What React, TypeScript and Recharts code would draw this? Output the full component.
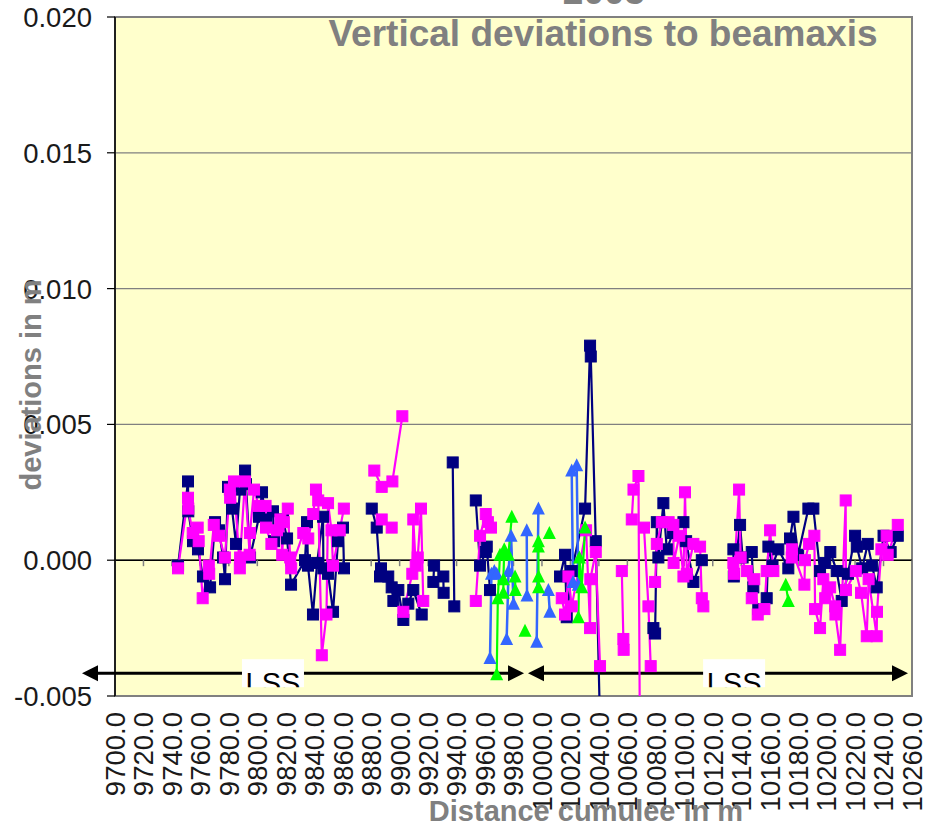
import React from 'react';
import {
  ComposedChart,
  Line,
  XAxis,
  YAxis,
  CartesianGrid,
  ReferenceLine,
  ReferenceArea,
  ReferenceDot,
} from 'recharts';

// ---------- axes ----------
const xTicks = [
  9700, 9720, 9740, 9760, 9780, 9800, 9820, 9840, 9860, 9880, 9900, 9920, 9940, 9960, 9980,
  10000, 10020, 10040, 10060, 10080, 10100, 10120, 10140, 10160, 10180, 10200, 10220, 10240, 10260,
];
const yTicks = [-0.005, 0, 0.005, 0.01, 0.015, 0.02];

const titleLine1 = '2005';
const titleLine2 = 'Vertical deviations to beamaxis';
const yTitle = 'deviations in m';
const xTitle = 'Distance cumulee in m';
const zoneLabel = 'LSS';

// ---------- series (distance in m, deviation in m; null = break in line) ----------
type Pt = [number, number | null];

const navyPts: Pt[] = [
  [9744.3, -0.0002], [9751.3, 0.0029], [9751.5, 0.0018], [9754.8, 0.0007], [9758.3, 0.0004],
  [9761.8, -0.0006], [9766.8, -0.001], [9770.3, 0.0014], [9773.1, 0.0011], [9775.9, 0.0001],
  [9777.3, -0.0007], [9779.4, 0.0027], [9782.2, 0.0019], [9785.0, 0.0006], [9787.8, 0.0026],
  [9791.4, 0.0033], [9792.0, 0.0028], [9794.9, 0.0001], [9801.2, 0.0016], [9803.3, 0.0025],
  [9806.1, 0.0015], [9811.0, 0.0018], [9811.7, 0.0007], [9818.0, 0.0015], [9820.9, 0.0008],
  [9823.7, -0.0009], [9833.5, 0.0], [9834.9, 0.0014], [9835.6, -0.0002], [9839.1, -0.002],
  [9842.0, -0.0001], [9846.2, 0.0016], [9846.4, -0.0003], [9849.7, -0.0005], [9853.2, -0.0019],
  [9856.7, 0.0007], [9860.2, 0.0012], [9860.9, -0.0003],
  [9870, null],
  [9880.4, 0.0019], [9883.9, 0.0012], [9886.2, -0.0006], [9886.9, -0.0003], [9892.0, -0.0006],
  [9894.4, -0.001], [9895.6, -0.0015], [9899.1, -0.0011], [9902.6, -0.0022], [9906.1, -0.0016],
  [9909.6, -0.0011], [9915.5, -0.002],
  [9920, null],
  [9923.7, -0.0008], [9924.2, -0.0002], [9930.7, -0.0006], [9930.9, -0.0012],
  [9934, null],
  [9937.3, 0.0036], [9938.4, -0.0017],
  [9945, null],
  [9953.5, 0.0022], [9956.5, -0.0002], [9960.5, 0.0003], [9961.2, 0.0005], [9963.5, -0.0011],
  [9990, null],
  [10012.7, -0.0006], [10016.2, 0.0002], [10017.4, -0.0021], [10020.9, -0.0004], [10030.3, 0.0019],
  [10033.8, 0.0079], [10034.3, 0.0075], [10037.8, 0.0007], [10041.9, -0.0085],
  [10060, null],
  [10078.3, -0.0025], [10079.5, -0.0027], [10080.7, 0.0014], [10081.8, 0.0001], [10085.3, 0.0021],
  [10087.7, 0.0004], [10092.0, 0.001], [10099.4, 0.0014], [10101.3, 0.0007], [10106.4, -0.0008],
  [10112.3, 0.0],
  [10125, null],
  [10134.5, 0.0004], [10134.8, -0.0006], [10139.2, 0.0013], [10141.0, 0.0001], [10147.4, 0.0003],
  [10148.5, -0.001], [10152.0, -0.0018], [10157.9, -0.0014], [10159.1, 0.0005], [10162.0, -0.0002],
  [10166.1, 0.0004], [10173.1, -0.0003], [10174.3, 0.0008], [10176.7, 0.0016], [10180.0, 0.0002],
  [10187.2, 0.0019], [10190.7, 0.0019], [10195.4, -0.0004], [10199.0, -0.0001], [10202.6, 0.0003],
  [10207.1, -0.0004], [10210.6, -0.0015], [10215.0, -0.0005], [10220.0, 0.0009], [10221.2, 0.0005],
  [10225.0, -0.0003], [10228.9, 0.0006], [10232.0, -0.0002], [10235.2, -0.001], [10240.0, 0.0009],
  [10245.0, 0.0003], [10250.0, 0.0009],
];

const magentaPts: Pt[] = [
  [9744.3, -0.0003], [9751.3, 0.0023], [9751.5, 0.0019], [9754.6, 0.001], [9758.1, 0.0012],
  [9758.8, 0.0007], [9761.6, -0.0014], [9765.9, -0.0002], [9766.2, -0.0005], [9769.4, 0.0013],
  [9773.1, 0.0009], [9777.2, 0.0001], [9780.7, 0.0026], [9780.9, 0.0023], [9783.6, 0.0029],
  [9787.7, -0.0003], [9787.9, 0.0001], [9791.3, 0.0029], [9794.6, 0.0002], [9794.8, 0.001],
  [9797.7, 0.0026], [9801.0, 0.002], [9805.8, 0.002], [9806.1, 0.0012], [9809.9, 0.0006],
  [9813.8, 0.0011], [9816.2, 0.0015], [9817.5, 0.0002], [9818.6, 0.0014], [9821.4, 0.0019],
  [9823.1, 0.0001], [9823.8, -0.0003], [9832.3, 0.001], [9835.8, 0.0008], [9839.3, 0.0017],
  [9841.2, 0.0026], [9842.8, 0.0022], [9845.3, -0.0035], [9848.6, -0.002], [9849.7, 0.0021],
  [9852.1, 0.0011], [9853.2, -0.0002], [9857.9, 0.0011], [9860.8, 0.0019],
  [9870, null],
  [9882.2, 0.0033], [9887.4, 0.0027], [9894.9, 0.0029], [9901.9, 0.0053],
  [9890, null],
  [9887.4, 0.0015], [9894.4, 0.0012],
  [9898, null],
  [9902.6, -0.0019], [9908.9, -0.0005], [9909.6, 0.0015], [9911.3, -0.0002], [9912.7, 0.0001],
  [9915.0, 0.0019], [9916.6, -0.0015],
  [9930, null],
  [9953.5, -0.0015], [9956.5, 0.0009], [9960.5, 0.0017], [9962.0, 0.0014], [9964.2, 0.0012],
  [9990, null],
  [10013.9, -0.0014], [10016.2, -0.002], [10018.6, -0.0006], [10020.9, -0.0017], [10031.0, 0.0011],
  [10033.8, -0.0025], [10034.0, -0.0007], [10037.8, 0.0003], [10040.8, -0.0039],
  [10050, null],
  [10056.1, -0.0004], [10057.2, -0.0029], [10057.4, -0.0033],
  [10060, null],
  [10063.1, 0.0015], [10064.3, 0.0026], [10067.8, 0.0031], [10068.8, -0.0065],
  [10070, null],
  [10071.7, 0.0012], [10074.8, -0.0017], [10076.4, -0.0039],
  [10078, null],
  [10079.5, -0.0008], [10080.7, 0.0006], [10084.2, 0.0014], [10089.0, 0.0014], [10092.3, 0.0013],
  [10092.5, -0.0001], [10096.5, 0.0009], [10099.4, -0.0006], [10100.5, 0.0025], [10101.8, -0.0005],
  [10106.4, 0.0006], [10111.1, 0.0005], [10112.3, -0.0014], [10113.4, -0.0017],
  [10125, null],
  [10134.5, -0.0001], [10135.0, -0.0005], [10138.5, 0.0026], [10139.6, 0.0001], [10143.9, -0.0004],
  [10147.4, -0.0014], [10149.2, -0.0007], [10151.6, -0.002], [10156.3, -0.0018], [10157.9, -0.0004],
  [10160.3, 0.0011], [10162.6, -0.0004],
  [10168, null],
  [10175.5, 0.0001], [10175.6, 0.0004], [10184.4, -0.0009], [10184.8, 0.0], [10187.7, 0.0006],
  [10191.4, 0.0009], [10191.9, -0.0018], [10195.4, -0.0025], [10197.7, -0.0007], [10199.0, -0.0014],
  [10202.5, -0.001], [10206.0, -0.0017], [10206.2, -0.002], [10209.5, -0.0033], [10213.4, 0.0022],
  [10213.6, -0.0011], [10220.5, -0.0004], [10224.2, -0.0012], [10228.2, -0.0028], [10229.5, -0.0007],
  [10235.2, -0.0028], [10235.4, -0.0019], [10238.5, 0.0004], [10242.2, 0.0009], [10242.9, 0.0002],
  [10250.0, 0.0013],
];

const bluePts: Pt[] = [
  [9963.5, -0.0036], [9964.5, -0.0005], [9966.5, -0.0004], [9968.2, -0.0005],
  [9970, null],
  [9975.2, -0.0029], [9976.5, -0.0004], [9978.3, 0.0009], [9980.0, -0.0016],
  [9985, null],
  [9989.3, 0.0011], [9989.5, -0.0013],
  [9993, null],
  [9996.3, -0.003], [9997.5, 0.0019],
  [10000, null],
  [10004.5, -0.0011], [10005.5, -0.0019],
  [10012, null],
  [10020.9, 0.0033], [10021.8, -0.0008],
  [10023, null],
  [10024.4, 0.0035], [10025.5, -0.0009],
];

const greenPts: Pt[] = [
  [9968.2, -0.0042], [9969.0, -0.0014], [9970.5, 0.0002],
  [9971.5, null],
  [9972.9, -0.0012], [9972.9, -0.0007], [9973.5, 0.0004], [9976.4, 0.0002], [9978.8, 0.0016],
  [9980, null],
  [9981.1, -0.0006], [9981.3, -0.0011],
  [9985, null],
  [9988.1, -0.0026],
  [9993, null],
  [9997.5, 0.0007], [9997.5, 0.0005], [9997.6, -0.0006], [9997.6, -0.001],
  [10001, null],
  [10005.2, 0.001],
  [10015, null],
  [10025.6, -0.0021], [10026.3, 0.0001], [10027.9, -0.001], [10030.3, 0.0012],
  [10100, null],
  [10171.3, -0.0009], [10173.1, -0.0015],
];

// annotation (zone arrows)
const arrowLevel = -0.00416;
const lssArrows: [number, number][] = [
  [9676.8, 9987.4],
  [9990.2, 10257.2],
];
const lssLabelAt = [9811, 10135];

// ---------- helpers ----------
const toRows = (pts: Pt[]) => pts.map(([d, v]) => ({ d, v }));

const FONT = 'Liberation Sans, Arial, Helvetica, sans-serif';

const squareDot = (color: string, size: number) => (props: any) => {
  const { cx, cy, index, value } = props;
  if (cx == null || cy == null || value == null || Number.isNaN(cy)) return <g key={`e${index}`} />;
  return (
    <rect
      key={`s${index}`}
      x={cx - size / 2}
      y={cy - size / 2}
      width={size}
      height={size}
      fill={color}
      stroke={color}
      strokeWidth={1}
    />
  );
};

const triangleDot = (color: string, size: number) => (props: any) => {
  const { cx, cy, index, value } = props;
  if (cx == null || cy == null || value == null || Number.isNaN(cy)) return <g key={`e${index}`} />;
  const h = size / 2;
  return (
    <path
      key={`t${index}`}
      d={`M${cx},${cy - h - 1} L${cx + h + 0.5},${cy + h} L${cx - h - 0.5},${cy + h} Z`}
      fill={color}
    />
  );
};

const XTick = (props: any) => {
  const { x, y, payload } = props;
  return (
    <text
      x={x}
      y={y}
      transform={`rotate(-90, ${x}, ${y})`}
      textAnchor="end"
      dy="0.36em"
      fontSize={27.5}
      fontFamily={FONT}
      fill="#1a1a1a"
    >
      {Number(payload.value).toFixed(1)}
    </text>
  );
};

const YTick = (props: any) => {
  const { x, y, payload } = props;
  return (
    <text x={x} y={y} dy="0.36em" textAnchor="end" fontSize={27.5} fontFamily={FONT} fill="#1a1a1a">
      {Number(payload.value).toFixed(3)}
    </text>
  );
};

const arrowShape = (p: any) => {
  const { x1, y1, x2, y2 } = p;
  const hl = 16;
  const hw = 8;
  return (
    <g>
      <line x1={x1 + hl - 2} y1={y1} x2={x2 - hl + 2} y2={y2} stroke="#000" strokeWidth={3} />
      <path d={`M${x1},${y1} L${x1 + hl},${y1 - hw} L${x1 + hl},${y1 + hw} Z`} fill="#000" />
      <path d={`M${x2},${y2} L${x2 - hl},${y2 - hw} L${x2 - hl},${y2 + hw} Z`} fill="#000" />
    </g>
  );
};

const lssShape = (id: string) => (p: any) => {
  const { cx, cy } = p;
  return (
    <g>
      <defs>
        <clipPath id={id}>
          <rect x={cx - 31} y={cy - 14} width={62} height={28} />
        </clipPath>
      </defs>
      <rect x={cx - 31} y={cy - 14} width={62} height={28} fill="#ffffff" />
      <text
        x={cx}
        y={cy + 20}
        textAnchor="middle"
        fontSize={29}
        fontFamily={FONT}
        fill="#000"
        clipPath={`url(#${id})`}
      >
        {zoneLabel}
      </text>
    </g>
  );
};

export default function App() {
  const navy = toRows(navyPts);
  const magenta = toRows(magentaPts);
  const blue = toRows(bluePts);
  const green = toRows(greenPts);

  return (
    <div style={{ position: 'absolute', left: 0, top: 0, width: 936, height: 825, background: '#fff' }}>
      <ComposedChart width={936} height={825} margin={{ top: 17, right: 24, bottom: 0, left: 0 }}>
        <CartesianGrid
          horizontal
          vertical={false}
          stroke="#808080"
          strokeWidth={1.2}
          fill="#FFFFCC"
          fillOpacity={1}
        />
        <XAxis
          dataKey="d"
          type="number"
          domain={[9700, 10260]}
          ticks={xTicks}
          interval={0}
          allowDataOverflow
          axisLine={false}
          tickLine={false}
          tickSize={0}
          tickMargin={16}
          height={129}
          tick={XTick}
        />
        <YAxis
          type="number"
          domain={[-0.005, 0.02]}
          ticks={yTicks}
          interval={0}
          allowDataOverflow
          width={115}
          axisLine={{ stroke: '#000', strokeWidth: 1.5 }}
          tickLine={{ stroke: '#000', strokeWidth: 1.2 }}
          tickSize={8}
          tickMargin={15}
          tick={YTick}
        />
        <ReferenceArea
          x1={9700}
          x2={10260}
          y1={-0.005}
          y2={0.02}
          fill="none"
          fillOpacity={0}
          stroke="#808080"
          strokeWidth={2}
          ifOverflow="visible"
        />
        <ReferenceLine y={0} stroke="#000" strokeWidth={1.5} />
        {xTicks.map((t) => (
          <ReferenceLine
            key={`zt${t}`}
            segment={[
              { x: t, y: 0 },
              { x: t, y: -0.00022 },
            ]}
            stroke="#808080"
            strokeWidth={1.5}
          />
        ))}
        {lssArrows.map(([a, b], i) => (
          <ReferenceLine
            key={`ar${i}`}
            segment={[
              { x: a, y: arrowLevel },
              { x: b, y: arrowLevel },
            ]}
            ifOverflow="visible"
            shape={arrowShape}
          />
        ))}
        {lssLabelAt.map((x, i) => (
          <ReferenceDot key={`lss${i}`} x={x} y={arrowLevel} ifOverflow="visible" shape={lssShape(`lssclip${i}`)} />
        ))}
        <Line
          data={navy}
          dataKey="v"
          type="linear"
          stroke="#000080"
          strokeWidth={2.2}
          dot={squareDot('#000080', 11)}
          activeDot={false}
          connectNulls={false}
          isAnimationActive={false}
        />
        <Line
          data={magenta}
          dataKey="v"
          type="linear"
          stroke="#FF00FF"
          strokeWidth={2.2}
          dot={squareDot('#FF00FF', 11)}
          activeDot={false}
          connectNulls={false}
          isAnimationActive={false}
        />
        <Line
          data={blue}
          dataKey="v"
          type="linear"
          stroke="#3366FF"
          strokeWidth={2.5}
          dot={triangleDot('#3366FF', 12)}
          activeDot={false}
          connectNulls={false}
          isAnimationActive={false}
        />
        <Line
          data={green}
          dataKey="v"
          type="linear"
          stroke="#00FF00"
          strokeWidth={2.2}
          dot={triangleDot('#00FF00', 12)}
          activeDot={false}
          connectNulls={false}
          isAnimationActive={false}
        />
      </ComposedChart>
      <svg
        width={936}
        height={825}
        style={{ position: 'absolute', left: 0, top: 0, pointerEvents: 'none' }}
      >
        <text x={604} y={4} textAnchor="middle" fontSize={37} fontWeight="bold" fontFamily={FONT} fill="#808080">
          {titleLine1}
        </text>
        <text x={603} y={46} textAnchor="middle" fontSize={37} fontWeight="bold" fontFamily={FONT} fill="#808080">
          {titleLine2}
        </text>
        <text
          x={41}
          y={385}
          transform="rotate(-90, 41, 385)"
          textAnchor="middle"
          fontSize={29}
          fontWeight="bold"
          fontFamily={FONT}
          fill="#808080"
        >
          {yTitle}
        </text>
        <text x={586} y={821} textAnchor="middle" fontSize={29} fontWeight="bold" fontFamily={FONT} fill="#808080">
          {xTitle}
        </text>
      </svg>
    </div>
  );
}
